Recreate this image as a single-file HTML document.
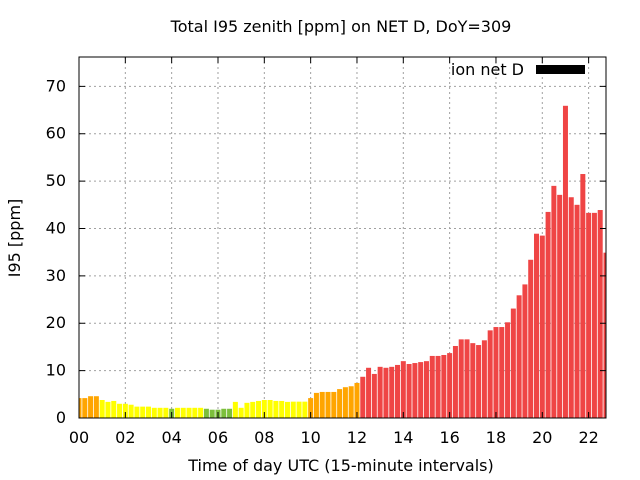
<!DOCTYPE html>
<html><head><meta charset="utf-8"><style>
body{margin:0;background:#fff;}
svg{display:block;font-family:"DejaVu Sans","Liberation Sans",sans-serif;}
</style></head><body>
<svg id="chart" width="640" height="480"></svg>
<script>
const values=[4.2,4.2,4.6,4.6, 3.8,3.4,3.6,3.0, 3.0,2.8,2.4,2.4, 2.4,2.15,2.15,2.15,
1.95,2.15,2.15,2.15, 2.15,2.15,1.95,1.75, 1.75,1.95,1.95,3.4, 2.15,3.2,3.4,3.6,
3.8,3.8,3.6,3.6, 3.4,3.45,3.45,3.45, 4.2,5.3,5.5,5.5, 5.5,6.1,6.5,6.7, 7.4,
8.7,10.6,9.3,10.8,10.6,10.8,11.2,12.0,11.4,11.6,11.8,12.0,13.1,13.1,13.3,13.7,15.2,16.6,16.6,15.8,15.4,16.4,18.5,19.2,19.2,20.2,23.1,25.9,28.2,33.4,38.9,38.5,43.5,49.0,47.1,65.9,46.6,45.0,51.5,43.3,43.3,43.9,34.9];
const yTicks=[0,10,20,30,40,50,60,70];
const xTickLabels=["00","02","04","06","08","10","12","14","16","18","20","22"];
const L=79,R=606,T=57,B=418,yMax=76.2,xMax=22.75;
const svg=document.getElementById('chart');
const NS='http://www.w3.org/2000/svg';
function X(h){return L+(R-L)*h/xMax;}
function Y(v){return B-(B-T)*v/yMax;}
function mk(tag,attrs,parent){const e=document.createElementNS(NS,tag);for(const k in attrs)e.setAttribute(k,attrs[k]);(parent||svg).appendChild(e);return e;}
function color(v){return v<2?'#7cbf3c':v<4?'#ffff00':v<8?'#ffa500':'#ef4545';}
const defs=mk('defs',{});const cp=mk('clipPath',{id:'pc'},defs);mk('rect',{x:L,y:T,width:R-L,height:B-T},cp);
const grid=mk('g',{});
yTicks.forEach(v=>{if(v>0)mk('line',{x1:L,x2:R,y1:Y(v),y2:Y(v),stroke:'#a0a0a0','stroke-dasharray':'2,3'},grid);});
xTickLabels.forEach((t,i)=>{if(i>0)mk('line',{x1:X(i*2),x2:X(i*2),y1:T,y2:B,stroke:'#a0a0a0','stroke-dasharray':'2,3'},grid);});
const bars=mk('g',{'clip-path':'url(#pc)'});
values.forEach((v,i)=>{const cx=X(i*0.25);const r=mk('rect',{x:cx-2.5,y:Y(v),width:5,height:B-Y(v),fill:color(v)},bars);

});
const fr=mk('rect',{x:L,y:T,width:R-L,height:B-T,fill:'none',stroke:'#000','stroke-width':1});

yTicks.forEach(v=>{mk('line',{x1:L,x2:L+6,y1:Y(v),y2:Y(v),stroke:'#000'});mk('line',{x1:R-6,x2:R,y1:Y(v),y2:Y(v),stroke:'#000'});
const t=mk('text',{x:66,y:Y(v)+5,'text-anchor':'end','font-size':16});t.textContent=v;
});
xTickLabels.forEach((s,i)=>{const x=X(i*2);mk('line',{x1:x,x2:x,y1:B,y2:B-6,stroke:'#000'});mk('line',{x1:x,x2:x,y1:T,y2:T+6,stroke:'#000'});
const t=mk('text',{x:x,y:443,'text-anchor':'middle','font-size':16});t.textContent=s;
});
let t=mk('text',{x:341,y:32,'text-anchor':'middle','font-size':16});t.textContent='Total I95 zenith [ppm] on NET D, DoY=309';

t=mk('text',{x:341,y:471,'text-anchor':'middle','font-size':16});t.textContent='Time of day UTC (15-minute intervals)';

t=mk('text',{x:20,y:238,'text-anchor':'middle','font-size':16,transform:'rotate(-90 20 238)'});t.textContent='I95 [ppm]';

const lg=mk('g',{});
t=mk('text',{x:524,y:75,'text-anchor':'end','font-size':16},lg);t.textContent='ion net D';
mk('rect',{x:536,y:65,width:49,height:9,fill:'#000'},lg);
</script>
</body></html>
